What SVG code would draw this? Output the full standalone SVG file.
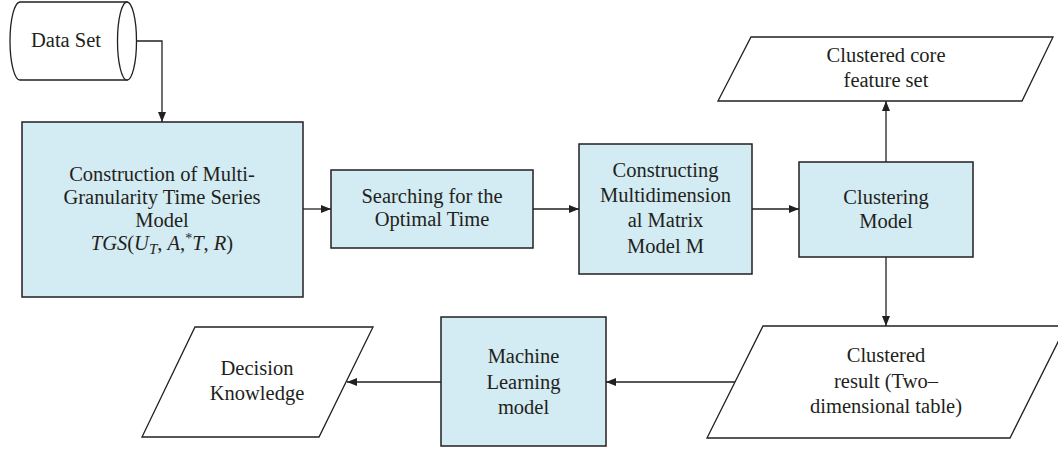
<svg xmlns="http://www.w3.org/2000/svg" width="1058" height="449" viewBox="0 0 1058 449">
<defs>
<style>
.box{fill:#d3ebf2;stroke:#231f20;stroke-width:1.5}
.io{fill:#ffffff;stroke:#231f20;stroke-width:1.3}
.t{font-family:'Liberation Serif','DejaVu Serif',serif;font-size:20.5px;fill:#231f20;text-anchor:middle}
.c{fill:none;stroke:#231f20;stroke-width:1.3}
</style>
<marker id="ah" viewBox="0 0 10 8" refX="10" refY="4" markerWidth="10" markerHeight="8" markerUnits="userSpaceOnUse" orient="auto">
<path d="M0,0 L10,4 L0,8 Z" fill="#231f20"/>
</marker>
</defs>
<rect width="1058" height="449" fill="#ffffff"/>

<g id="n-dataset">
<path class="io" d="M20,2 L127,2 L127,80 L20,80 A10,39 0 0 1 20,2 Z"/>
<ellipse class="io" cx="127" cy="41" rx="9.5" ry="39"/>
<text class="t" x="66" y="47">Data Set</text>
</g>

<g id="n-construction">
<rect class="box" x="22" y="122" width="281" height="175"/>
<text class="t" x="162" y="181">Construction of Multi-</text>
<text class="t" x="162" y="204">Granularity Time Series</text>
<text class="t" x="162" y="227">Model</text>
<text class="t" x="162" y="250"><tspan font-style="italic">TGS</tspan>(<tspan font-style="italic">U</tspan><tspan font-style="italic" font-size="15" dy="4">T</tspan><tspan dy="-4">, </tspan><tspan font-style="italic">A</tspan>,<tspan font-size="14" dy="-7">*</tspan><tspan font-style="italic" dy="7">T</tspan>, <tspan font-style="italic">R</tspan>)</text>
</g>

<g id="n-search">
<rect class="box" x="331" y="170" width="202" height="78"/>
<text class="t" x="432" y="203">Searching for the</text>
<text class="t" x="432" y="226">Optimal Time</text>
</g>

<g id="n-matrix">
<rect class="box" x="579" y="144" width="173" height="130"/>
<text class="t" x="665.5" y="177">Constructing</text>
<text class="t" x="665.5" y="202">Multidimension</text>
<text class="t" x="665.5" y="227">al Matrix</text>
<text class="t" x="665.5" y="253">Model M</text>
</g>

<g id="n-clustering">
<rect class="box" x="799" y="162" width="174" height="95"/>
<text class="t" x="886" y="204">Clustering</text>
<text class="t" x="886" y="228">Model</text>
</g>

<g id="n-corefeature">
<polygon class="io" points="751,37 1053,37 1022,101 718,101"/>
<text class="t" x="886" y="62">Clustered core</text>
<text class="t" x="886" y="87">feature set</text>
</g>

<g id="n-result">
<polygon class="io" points="763,326 1066,326 1010,438 707,438"/>
<text class="t" x="886" y="362">Clustered</text>
<text class="t" x="886" y="388">result (Two–</text>
<text class="t" x="886" y="413">dimensional table)</text>
</g>

<g id="n-ml">
<rect class="box" x="441" y="317" width="165" height="129"/>
<text class="t" x="523.5" y="363">Machine</text>
<text class="t" x="523.5" y="389">Learning</text>
<text class="t" x="523.5" y="414">model</text>
</g>

<g id="n-decision">
<polygon class="io" points="195,327 373,327 319,437 142,437"/>
<text class="t" x="257" y="375">Decision</text>
<text class="t" x="257" y="400">Knowledge</text>
</g>

<g id="connectors">
<path class="c" d="M137,41 L162,41 L162,122" marker-end="url(#ah)"/>
<path class="c" d="M303,209 L331,209" marker-end="url(#ah)"/>
<path class="c" d="M533,209 L579,209" marker-end="url(#ah)"/>
<path class="c" d="M752,209 L799,209" marker-end="url(#ah)"/>
<path class="c" d="M886,162 L886,101" marker-end="url(#ah)"/>
<path class="c" d="M886,257 L886,326" marker-end="url(#ah)"/>
<path class="c" d="M735,382 L606,382" marker-end="url(#ah)"/>
<path class="c" d="M441,382 L347,382" marker-end="url(#ah)"/>
</g>
</svg>
